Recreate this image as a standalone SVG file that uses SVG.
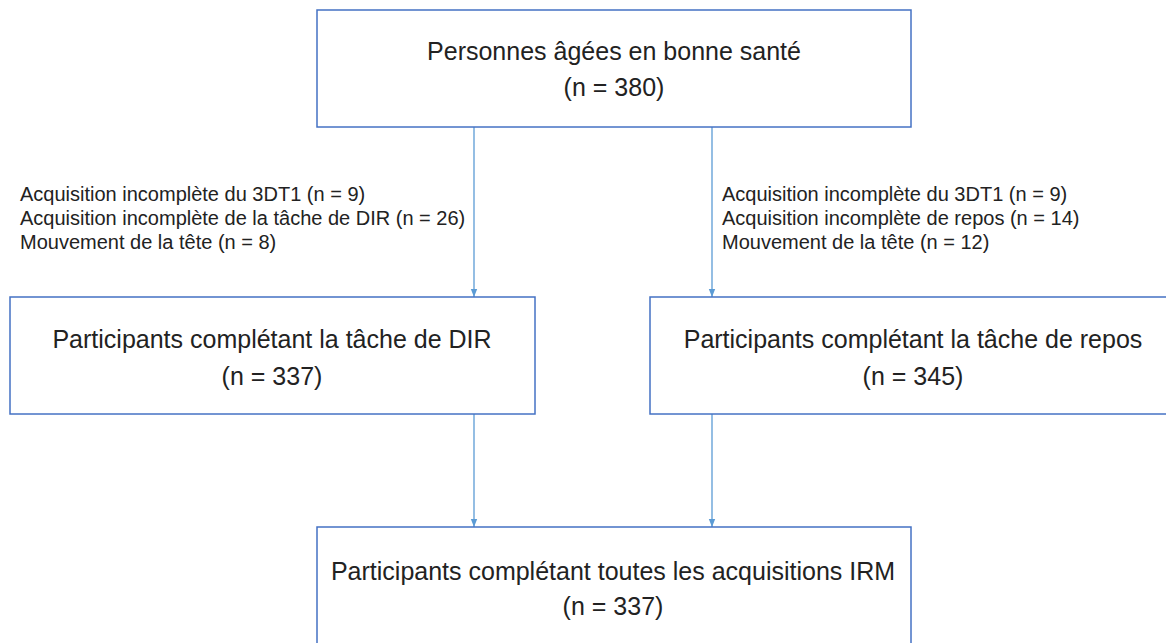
<svg xmlns="http://www.w3.org/2000/svg" width="1166" height="643" viewBox="0 0 1166 643">
<style>
.box{fill:#ffffff;stroke:#4472C4;stroke-width:1.5}
.main{font-family:"Liberation Sans",Arial,sans-serif;font-size:25px;fill:#222222;text-anchor:middle}
.lab{font-family:"Liberation Sans",Arial,sans-serif;font-size:20px;fill:#222222}
.conn{stroke:#5B9BD5;stroke-width:1.3;fill:none;marker-end:url(#ah)}
</style>
<defs>
<marker id="ah" viewBox="0 0 10 10" refX="10" refY="5" markerWidth="8" markerHeight="8" markerUnits="userSpaceOnUse" orient="auto">
<path d="M0,1 L10,5 L0,9 z" fill="#5B9BD5"/>
</marker>
</defs>
<rect width="1166" height="643" fill="#ffffff"/>
<g id="connectors">
<line class="conn" x1="474" y1="127" x2="474" y2="297"/>
<line class="conn" x1="712" y1="127" x2="712" y2="297"/>
<line class="conn" x1="474" y1="414" x2="474" y2="527"/>
<line class="conn" x1="712" y1="414" x2="712" y2="527"/>
</g>
<g id="node-top">
<rect class="box" x="317" y="10" width="594" height="117"/>
<text class="main" x="614" y="60">Personnes âgées en bonne santé</text>
<text class="main" x="614" y="96">(n = 380)</text>
</g>
<g id="label-left">
<text class="lab" x="20" y="201">Acquisition incomplète du 3DT1 (n = 9)</text>
<text class="lab" x="20" y="225">Acquisition incomplète de la tâche de DIR (n = 26)</text>
<text class="lab" x="20" y="249">Mouvement de la tête (n = 8)</text>
</g>
<g id="label-right">
<text class="lab" x="722" y="201">Acquisition incomplète du 3DT1 (n = 9)</text>
<text class="lab" x="722" y="225">Acquisition incomplète de repos (n = 14)</text>
<text class="lab" x="722" y="249">Mouvement de la tête (n = 12)</text>
</g>
<g id="node-dir">
<rect class="box" x="10" y="297" width="525" height="117"/>
<text class="main" x="272" y="348">Participants complétant la tâche de DIR</text>
<text class="main" x="272" y="385">(n = 337)</text>
</g>
<g id="node-repos">
<rect class="box" x="650" y="297" width="525" height="117"/>
<text class="main" x="913" y="348">Participants complétant la tâche de repos</text>
<text class="main" x="913" y="385">(n = 345)</text>
</g>
<g id="node-all">
<rect class="box" x="317" y="527" width="594" height="130"/>
<text class="main" x="613" y="580">Participants complétant toutes les acquisitions IRM</text>
<text class="main" x="613" y="615">(n = 337)</text>
</g>
</svg>
